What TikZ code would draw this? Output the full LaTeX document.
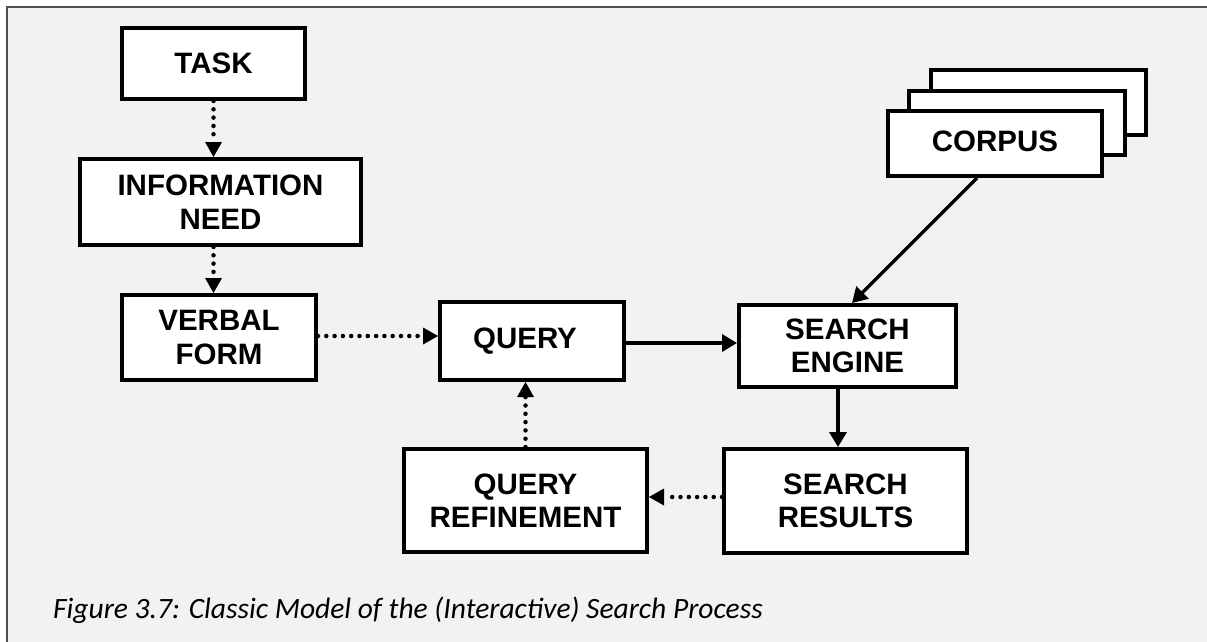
\documentclass[tikz,border=0pt]{standalone}
\usepackage{fontspec}
\setmainfont{Liberation Sans}
\newfontfamily\capfont{Carlito}
\usetikzlibrary{arrows.meta}
\definecolor{bggray}{HTML}{F2F2F2}
\definecolor{framegray}{HTML}{505050}
\tikzset{
  procbox/.style={draw=black, line width=4pt, fill=white, inner sep=0pt, align=center,
    font=\fontsize{29.5}{33.5}\selectfont\bfseries},
  solidarrow/.style={line width=3.5pt, -{Triangle[length=15pt,width=17pt]}},
  dotarrow/.style={line width=4.5pt, line cap=round, dash pattern=on 0pt off 8.3pt,
    -{Triangle[length=15pt,width=17pt,line width=0pt]}},
  captext/.style={font=\capfont\itshape\fontsize{29.5}{34}\selectfont, inner sep=0pt, anchor=base west}
}
\begin{document}
\begin{tikzpicture}[x=1pt,y=-1pt]
\useasboundingbox (0,0) rectangle (1207,642);
\fill[white] (0,0) rectangle (1207,642);
\fill[bggray] (7,7) rectangle (1207,642);
\draw[framegray, line width=2pt] (7,642) -- (7,7) -- (1207,7);

% corpus stack
\node[procbox, minimum width=215pt, minimum height=65pt] (corpusC) at (1038.5,102.5) {};
\node[procbox, minimum width=216pt, minimum height=64pt] (corpusB) at (1017,123) {};
\node[procbox, minimum width=214pt, minimum height=65pt] (corpus) at (995,143.5) {\raisebox{4pt}{CORPUS}};

\node[procbox, minimum width=183pt, minimum height=71pt] (task) at (213.5,63.5) {TASK};
\node[procbox, minimum width=281pt, minimum height=86pt] (info) at (220.5,202) {INFORMATION\\NEED};
\node[procbox, minimum width=194pt, minimum height=85pt] (verbal) at (219,337.5) {VERBAL\\FORM};
\node[procbox, minimum width=184pt, minimum height=78pt] (query) at (532,341) {\hspace*{-14pt}\raisebox{4pt}{QUERY}};
\node[procbox, minimum width=217pt, minimum height=82pt] (engine) at (847.5,346) {SEARCH\\ENGINE};
\node[procbox, minimum width=243pt, minimum height=104pt] (results) at (845.5,501) {SEARCH\\RESULTS};
\node[procbox, minimum width=243pt, minimum height=103pt] (refine) at (525.5,500.5) {QUERY\\REFINEMENT};

\draw[dotarrow] (task.south) -- (task.south |- info.north);
\draw[dotarrow] (task.south |- info.south) -- (task.south |- verbal.north);
\draw[dotarrow] ([yshift=1.5pt]verbal.east) -- ([yshift=1.5pt]verbal.east -| query.west);
\draw[solidarrow] ([yshift=-2pt]query.east) -- ([yshift=-2pt]query.east -| engine.west);
\draw[solidarrow] ([xshift=-18pt]corpus.south) -- ([xshift=4.5pt]engine.north);
\draw[solidarrow] ([xshift=-9.5pt]engine.south) -- ([xshift=-9.5pt]engine.south |- results.north);
\draw[dotarrow] ([yshift=4pt]results.west) -- ([yshift=4pt]results.west -| refine.east);
\draw[dotarrow] (refine.north) -- (refine.north |- query.south);

\node[captext] (caption) at (53,618) {Figure 3.7: Classic Model of the (Interactive) Search Process};
\end{tikzpicture}
\end{document}
